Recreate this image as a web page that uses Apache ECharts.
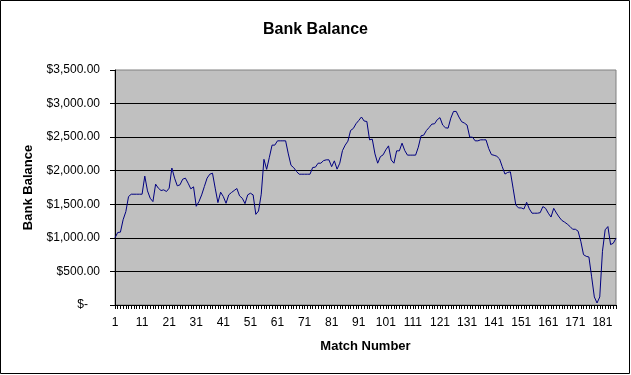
<!DOCTYPE html>
<html>
<head>
<meta charset="utf-8">
<script src="https://cdn.jsdelivr.net/npm/echarts@6/dist/echarts.min.js"></script>
<style>
html,body{margin:0;padding:0;background:#fff;}
#chart{width:631px;height:375px;}
</style>
</head>
<body>
<div id="chart"></div>
<script>
// Match numbers 1..186
var matchNumbers = [];
for (var k = 1; k <= 186; k++) matchNumbers.push(String(k));

// Bank balance per match
var balance = [
1000,1080,1085,1270,1390,1615,1650,1650,1650,1650,
1650,1920,1700,1590,1540,1800,1740,1705,1715,1690,
1740,2040,1889,1775,1790,1874,1889,1814,1730,1760,
1470,1540,1640,1765,1889,1948,1963,1740,1525,1680,
1615,1515,1640,1675,1705,1735,1625,1590,1510,1640,
1665,1640,1350,1400,1650,2170,2020,2200,2381,2381,
2445,2445,2445,2445,2250,2080,2045,1990,1948,1948,
1948,1948,1948,2048,2053,2112,2112,2150,2162,2162,
2060,2147,2023,2112,2300,2381,2440,2600,2629,2700,
2748,2800,2740,2733,2460,2470,2250,2112,2210,2236,
2311,2370,2160,2112,2296,2296,2410,2300,2232,2232,
2232,2232,2350,2520,2530,2599,2644,2694,2699,2760,
2790,2680,2640,2634,2783,2883,2883,2800,2730,2710,
2680,2500,2500,2445,2445,2460,2460,2460,2330,2240,
2230,2215,2175,2060,1950,1975,1983,1740,1490,1446,
1446,1430,1530,1431,1367,1367,1367,1375,1466,1440,
1367,1310,1440,1370,1310,1260,1235,1205,1170,1128,
1128,1100,950,750,725,715,420,120,30,120,
800,1120,1168,900,920,994
];

var yTickValues = [0,500,1000,1500,2000,2500,3000,3500];
var yTickLabels = ['$-','$500.00','$1,000.00','$1,500.00','$2,000.00','$2,500.00','$3,000.00','$3,500.00'];

var FONT = 'Arial, "Liberation Sans", sans-serif';
var chart = echarts.init(document.getElementById('chart'), null, {renderer:'canvas'});
chart.setOption({
  animation: false,
  backgroundColor: '#ffffff',
  title: {
    text: 'Bank Balance',
    left: 'center',
    top: 17,
    textStyle: {fontFamily: FONT, fontSize: 16, fontWeight: 'bold', color: '#000'}
  },
  graphic: [{
    type: 'rect', silent: true, z: 100,
    shape: {x: 0.5, y: 0.5, width: 629, height: 373},
    style: {fill: 'none', stroke: '#000', lineWidth: 1}
  }],
  grid: {
    left: 115, top: 70, right: 15, bottom: 70,
    show: true, backgroundColor: '#C0C0C0', borderColor: '#808080', borderWidth: 1
  },
  xAxis: {
    type: 'category',
    data: matchNumbers,
    boundaryGap: false,
    name: 'Match Number',
    nameLocation: 'middle',
    nameGap: 35,
    nameTextStyle: {fontFamily: FONT, fontSize: 13, fontWeight: 'bold', color: '#000'},
    axisLine: {show: true, lineStyle: {color: '#000', width: 1}},
    axisTick: {show: true, interval: 0, length: 4, lineStyle: {color: '#000'}},
    axisLabel: {interval: 9, margin: 12, fontFamily: FONT, fontSize: 12, color: '#000'},
    splitLine: {show: false}
  },
  yAxis: {
    type: 'value',
    min: 0, max: 3500, interval: 500,
    name: 'Bank Balance',
    nameLocation: 'middle',
    nameRotate: 90,
    nameGap: 80,
    nameTextStyle: {fontFamily: FONT, fontSize: 13, fontWeight: 'bold', color: '#000'},
    axisLine: {show: true, lineStyle: {color: '#000', width: 1}},
    axisTick: {show: true, length: 5, lineStyle: {color: '#000'}},
    axisLabel: {
      margin: 15, fontFamily: FONT, fontSize: 12, color: '#000',
      formatter: function (v) {
        var idx = yTickValues.indexOf(v);
        var t = idx >= 0 ? yTickLabels[idx] : String(v);
        return v === 0 ? '{z|' + t + '}' : t;
      },
      rich: {z: {fontFamily: FONT, fontSize: 12, color: '#000', padding: [0, 12, 0, 0]}}
    },
    splitLine: {show: true, showMaxLine: false, lineStyle: {color: '#000', width: 1}}
  },
  series: [{
    type: 'line',
    data: balance,
    symbol: 'none',
    lineStyle: {color: '#000080', width: 1},
    itemStyle: {color: '#000080'}
  }]
});
</script>
</body>
</html>
